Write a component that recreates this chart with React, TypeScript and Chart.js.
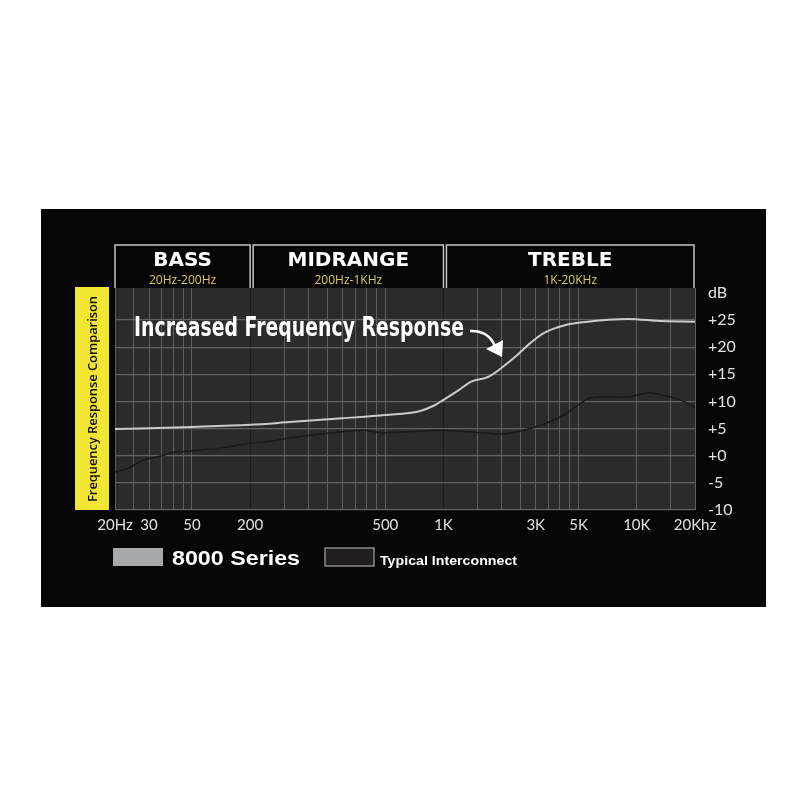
import React, { useEffect, useRef } from 'react';
import { Chart, registerables } from 'chart.js';
Chart.register(...registerables);

// ---- data ----
const seriesNames = ['8000 Series', 'Typical Interconnect'];
const series8000Freq = [20, 50, 100, 160, 300, 500, 750, 900, 1000, 1200, 1400, 1700, 2000, 2400, 2800, 3300, 4200, 5300, 9000, 13500, 20000];
const series8000Db = [4.9, 5.3, 5.7, 6.2, 6.9, 7.5, 8.2, 9.3, 10.3, 12.1, 13.7, 14.5, 16.2, 18.5, 20.7, 22.6, 24.0, 24.6, 25.2, 24.8, 24.7];
const interFreq = [20, 23.5, 28, 36, 38, 70, 100, 130, 163, 300, 384, 490, 1000, 2000, 2600, 3300, 4200, 5700, 9200, 11600, 17000, 20000];
const interDb = [-3.0, -2.3, -0.8, 0.1, 0.5, 1.4, 2.3, 2.7, 3.3, 4.4, 4.7, 4.2, 4.7, 4.0, 4.7, 5.8, 7.5, 10.6, 10.8, 11.6, 10.2, 8.8];

const gridFreqs = [20, 25, 30, 35, 40, 45, 50, 100, 150, 200, 250, 300, 350, 400, 450, 500, 1000, 1500, 2000, 2500, 3000, 3500, 4000, 4500, 5000, 10000, 15000, 20000];
const darkGridFreqs = [100, 1000];
const xTickValues = [20, 30, 50, 100, 500, 1000, 3000, 5000, 10000, 20000];
const xTickLabels = ['20Hz', '30', '50', '200', '500', '1K', '3K', '5K', '10K', '20Khz'];
const yTickValues = [-10, -5, 0, 5, 10, 15, 20, 25, 30];
const yTickLabels = ['-10', '-5', '+0', '+5', '+10', '+15', '+20', '+25', 'dB'];

const bandNames = ['BASS', 'MIDRANGE', 'TREBLE'];
const bandRanges = ['20Hz-200Hz', '200Hz-1KHz', '1K-20KHz'];
const bandEdges = [20, 100, 1000, 20000];

const annotationText = 'Increased Frequency Response';
const sideTitle = 'Frequency Response Comparison';

function fitText(ctx: CanvasRenderingContext2D, text: string, x: number, y: number, width: number, font: string) {
  ctx.save();
  ctx.font = font;
  const w = ctx.measureText(text).width;
  ctx.translate(x, y);
  ctx.scale(width / w, 1);
  ctx.textAlign = 'left';
  ctx.fillText(text, 0, 0);
  ctx.restore();
}

const decorPlugin = {
  id: 'decor',
  beforeDraw(chart: any) {
    const ctx: CanvasRenderingContext2D = chart.ctx;
    const { chartArea } = chart;
    const xs = chart.scales.x;
    ctx.save();
    // black panel
    ctx.fillStyle = '#060606';
    ctx.fillRect(41, 209, 725, 398);
    // plot background
    ctx.fillStyle = '#2c2b2c';
    ctx.fillRect(chartArea.left, chartArea.top, chartArea.right - chartArea.left, chartArea.bottom - chartArea.top);
    // yellow side box
    ctx.fillStyle = '#f3e633';
    ctx.fillRect(75, chartArea.top - 1, 34, chartArea.bottom - chartArea.top + 1);
    ctx.fillStyle = '#111';
    ctx.save();
    ctx.translate(97, (chartArea.top + chartArea.bottom) / 2);
    ctx.rotate(-Math.PI / 2);
    ctx.textBaseline = 'alphabetic';
    fitText(ctx, sideTitle, -103, 0, 206, '600 13px "Open Sans"');
    ctx.restore();
    // header boxes
    for (let i = 0; i < bandNames.length; i++) {
      const l = xs.getPixelForValue(bandEdges[i]) + (i > 0 ? 3 : 0);
      const r = xs.getPixelForValue(bandEdges[i + 1]) - (i === bandNames.length - 1 ? 1 : 0);
      const top = 245;
      ctx.strokeStyle = '#c4c4c4';
      ctx.lineWidth = 1.5;
      ctx.beginPath();
      ctx.moveTo(l, chartArea.top);
      ctx.lineTo(l, top);
      ctx.lineTo(r, top);
      ctx.lineTo(r, chartArea.top);
      ctx.stroke();
      const cx = (l + r) / 2;
      ctx.textAlign = 'center';
      ctx.fillStyle = '#ffffff';
      ctx.font = 'bold 20px "DejaVu Sans"';
      ctx.fillText(bandNames[i], cx, 266);
      ctx.fillStyle = '#d9cf57';
      ctx.font = '12px "Open Sans"';
      ctx.fillText(bandRanges[i], cx, 284);
    }
    ctx.restore();
  },
  afterDraw(chart: any) {
    const ctx: CanvasRenderingContext2D = chart.ctx;
    const { chartArea } = chart;
    ctx.save();
    // annotation
    ctx.fillStyle = '#ffffff';
    fitText(ctx, annotationText, chartArea.left + 19, chartArea.top + 48, 330, 'bold 27px "DejaVu Sans"');
    ctx.strokeStyle = '#ffffff';
    ctx.lineWidth = 2.5;
    ctx.beginPath();
    ctx.moveTo(470, 331);
    ctx.quadraticCurveTo(488, 330, 495, 346);
    ctx.stroke();
    ctx.beginPath();
    ctx.moveTo(486, 349);
    ctx.lineTo(503, 340);
    ctx.lineTo(502, 357);
    ctx.closePath();
    ctx.fill();
    // legend
    const ds = chart.data.datasets;
    ctx.fillStyle = '#a8a9ab';
    ctx.fillRect(113, 548, 50, 18);
    ctx.fillStyle = '#ffffff';
    fitText(ctx, ds[0].label, 172, 565, 128, 'bold 20px "Liberation Sans"');
    ctx.fillStyle = '#221e1f';
    ctx.fillRect(325, 548, 49, 18);
    ctx.strokeStyle = '#8a8a8a';
    ctx.lineWidth = 1.5;
    ctx.strokeRect(325, 548, 49, 18);
    ctx.fillStyle = '#ffffff';
    fitText(ctx, ds[1].label, 380, 565, 137, 'bold 12.5px "Liberation Sans"');
    ctx.restore();
  },
};

export default function App() {
  const ref = useRef<HTMLCanvasElement>(null);
  useEffect(() => {
    if (!ref.current) return;
    const chart = new Chart(ref.current, {
      type: 'line',
      data: {
        datasets: [
          {
            label: seriesNames[0],
            data: series8000Freq.map((f, i) => ({ x: f, y: series8000Db[i] })),
            borderColor: '#cbcbcb',
            borderWidth: 2,
            pointRadius: 0,
            cubicInterpolationMode: 'monotone',
          },
          {
            label: seriesNames[1],
            data: interFreq.map((f, i) => ({ x: f, y: interDb[i] })),
            borderColor: '#1a1a1a',
            borderWidth: 1.5,
            pointRadius: 0,
            tension: 0.25,
          },
        ],
      } as any,
      options: {
        responsive: false,
        animation: false,
        layout: { padding: { left: 115, right: 45, top: 288, bottom: 260 } },
        plugins: { legend: { display: false }, tooltip: { enabled: false }, title: { display: false } },
        scales: {
          x: {
            type: 'logarithmic',
            min: 20,
            max: 20000,
            afterBuildTicks: (s: any) => {
              s.ticks = gridFreqs.map((v) => ({ value: v }));
            },
            afterFit: (s: any) => {
              s.height = 30;
            },
            ticks: {
              autoSkip: false,
              maxRotation: 0,
              minRotation: 0,
              color: '#e2e2e2',
              font: { family: 'Lato', size: 15 },
              padding: 6,
              callback: (v: any) => {
                const i = xTickValues.indexOf(Number(v));
                return i >= 0 ? xTickLabels[i] : '';
              },
            },
            grid: {
              color: (c: any) => (darkGridFreqs.includes(c.tick?.value) ? '#1b1b1b' : '#5e5e5e'),
              lineWidth: 1,
              drawTicks: false,
            },
            border: { display: false },
          },
          y: {
            position: 'right',
            min: -10,
            max: 30.9,
            afterBuildTicks: (s: any) => {
              s.ticks = yTickValues.map((v) => ({ value: v }));
            },
            afterFit: (s: any) => {
              s.width = 60;
            },
            ticks: {
              color: '#e2e2e2',
              font: { family: 'Lato', size: 16 },
              padding: 13,
              callback: (v: any) => {
                const i = yTickValues.indexOf(Number(v));
                return i >= 0 ? yTickLabels[i] : '';
              },
            },
            grid: {
              color: (c: any) => (c.tick?.value === 30 ? 'rgba(0,0,0,0)' : '#626262'),
              lineWidth: 1.2,
              drawTicks: false,
            },
            border: { display: false },
          },
        },
      } as any,
      plugins: [decorPlugin],
    });
    return () => chart.destroy();
  }, []);
  return (
    <div style={{ position: 'absolute', left: 0, top: 0, width: 800, height: 800, background: '#ffffff' }}>
      <canvas ref={ref} width={800} height={800} />
    </div>
  );
}
